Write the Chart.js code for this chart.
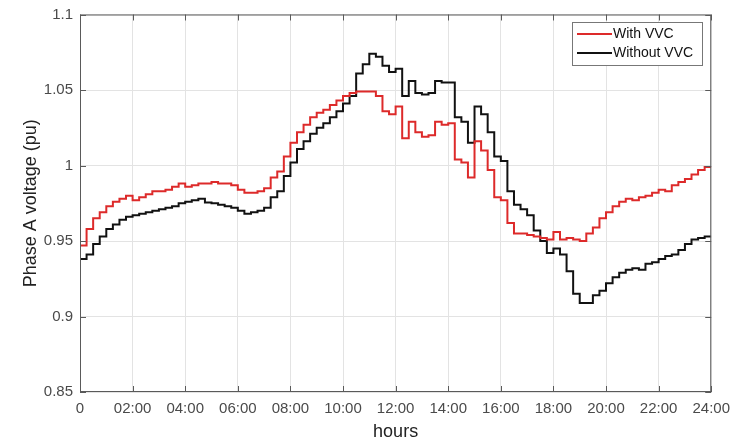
<!DOCTYPE html>
<html>
<head>
<meta charset="utf-8">
<script src="https://cdn.jsdelivr.net/npm/chart.js@4/dist/chart.umd.min.js"></script>
<style>
  html, body { margin: 0; padding: 0; background: #fff; }
  #wrap { width: 738px; height: 443px; }
</style>
</head>
<body>
<div id="wrap"><canvas id="volt"></canvas></div>
<script>
// 15-minute samples, 00:00 .. 24:00
const stepHours = 0.25;
const xTicks = [0, 2, 4, 6, 8, 10, 12, 14, 16, 18, 20, 22, 24];
const yTicks = [0.85, 0.9, 0.95, 1, 1.05, 1.1];

const withVVC = [
  0.947, 0.958, 0.965, 0.969, 0.973, 0.976, 0.978, 0.980,
  0.977, 0.979, 0.981, 0.983, 0.983, 0.984, 0.986, 0.988,
  0.986, 0.987, 0.988, 0.988, 0.989, 0.988, 0.988, 0.987,
  0.984, 0.982, 0.982, 0.983, 0.985, 0.992, 0.996, 1.006,
  1.015, 1.022, 1.027, 1.032, 1.035, 1.037, 1.040, 1.043,
  1.046, 1.048, 1.049, 1.049, 1.049, 1.046, 1.036, 1.034,
  1.039, 1.018, 1.029, 1.022, 1.019, 1.020, 1.029, 1.027,
  1.028, 1.004, 1.002, 0.992, 1.016, 1.010, 0.997, 0.979,
  0.977, 0.962, 0.955, 0.955, 0.954, 0.953, 0.952, 0.951,
  0.956, 0.951, 0.952, 0.951, 0.950, 0.955, 0.959, 0.965,
  0.969, 0.973, 0.976, 0.978, 0.977, 0.979, 0.980, 0.982,
  0.984, 0.983, 0.987, 0.989, 0.991, 0.994, 0.997, 0.999,
  0.999
];

const withoutVVC = [
  0.938, 0.941, 0.948, 0.953, 0.958, 0.961, 0.964, 0.966,
  0.967, 0.968, 0.969, 0.970, 0.971, 0.972, 0.973, 0.975,
  0.976, 0.977, 0.978, 0.9755, 0.975, 0.974, 0.973, 0.972,
  0.970, 0.968, 0.969, 0.970, 0.972, 0.979, 0.983, 0.993,
  1.002, 1.011, 1.016, 1.021, 1.025, 1.028, 1.032, 1.036,
  1.041, 1.046, 1.061, 1.067, 1.074, 1.072, 1.066, 1.062,
  1.064, 1.046, 1.056, 1.048, 1.047, 1.048, 1.056, 1.055,
  1.055, 1.032, 1.029, 1.015, 1.039, 1.034, 1.022, 1.006,
  1.003, 0.983, 0.974, 0.971, 0.967, 0.957, 0.950, 0.942,
  0.945, 0.941, 0.930, 0.915, 0.909, 0.909, 0.914, 0.917,
  0.922, 0.926, 0.929, 0.931, 0.932, 0.931, 0.935, 0.936,
  0.938, 0.940, 0.941, 0.944, 0.948, 0.951, 0.952, 0.953,
  0.953
];

const FONT = "'Liberation Sans', Arial, Helvetica, sans-serif";
const toPoints = arr => arr.map((v, i) => ({ x: i * stepHours, y: v }));

// MATLAB-like box, inward ticks and boxed legend
const frame = {
  id: 'frame',
  afterDraw(chart) {
    const { ctx, chartArea: a, scales: { x, y } } = chart;
    ctx.save();
    ctx.strokeStyle = '#5a5a5a';
    ctx.lineWidth = 1;
    ctx.strokeRect(a.left + 0.5, a.top + 0.5, a.width - 1, a.height - 1);
    ctx.beginPath();
    xTicks.forEach(t => {
      const px = Math.round(x.getPixelForValue(t)) + 0.5;
      ctx.moveTo(px, a.bottom); ctx.lineTo(px, a.bottom - 6);
      ctx.moveTo(px, a.top); ctx.lineTo(px, a.top + 6);
    });
    yTicks.forEach(t => {
      const py = Math.round(y.getPixelForValue(t)) + 0.5;
      ctx.moveTo(a.left, py); ctx.lineTo(a.left + 6, py);
      ctx.moveTo(a.right, py); ctx.lineTo(a.right - 6, py);
    });
    ctx.stroke();

    // legend
    const lx = 572, ly = 22, lw = 130, lh = 43;
    ctx.fillStyle = '#fff';
    ctx.fillRect(lx, ly, lw, lh);
    ctx.strokeStyle = '#777';
    ctx.strokeRect(lx + 0.5, ly + 0.5, lw, lh);
    ctx.font = '14px ' + FONT;
    ctx.textBaseline = 'middle';
    chart.data.datasets.forEach((ds, i) => {
      const yy = ly + 12 + i * 19;
      ctx.strokeStyle = ds.borderColor;
      ctx.lineWidth = 2;
      ctx.beginPath();
      ctx.moveTo(lx + 5, yy); ctx.lineTo(lx + 40, yy);
      ctx.stroke();
      ctx.fillStyle = '#111';
      ctx.fillText(ds.label, lx + 41, yy);
    });
    ctx.restore();
  }
};

new Chart(document.getElementById('volt'), {
  type: 'line',
  data: {
    datasets: [
      {
        label: 'With VVC',
        data: toPoints(withVVC),
        borderColor: '#dd2a2a',
        borderWidth: 2,
        pointRadius: 0,
        stepped: true,
        fill: false,
      },
      {
        label: 'Without VVC',
        data: toPoints(withoutVVC),
        borderColor: '#111111',
        borderWidth: 2,
        pointRadius: 0,
        stepped: true,
        fill: false,
      },
    ],
  },
  options: {
    responsive: true,
    maintainAspectRatio: false,
    animation: false,
    layout: { padding: { top: 13, right: 26, left: 0, bottom: 0 } },
    plugins: { legend: { display: false }, tooltip: { enabled: false } },
    scales: {
      x: {
        type: 'linear',
        min: 0,
        max: 24,
        afterFit: s => { s.height = 51; },
        afterBuildTicks: s => { s.ticks = xTicks.map(v => ({ value: v })); },
        ticks: {
          padding: 8,
          color: '#4a4a4a',
          font: { family: FONT, size: 15 },
          maxRotation: 0,
          callback: v => v === 0 ? '0' : String(v).padStart(2, '0') + ':00',
        },
        grid: { color: '#e3e3e3', drawTicks: false },
        border: { display: false },
        title: {
          display: true,
          text: 'hours',
          color: '#222',
          font: { family: FONT, size: 18 },
          padding: { top: 0, bottom: 0 },
        },
      },
      y: {
        min: 0.85,
        max: 1.1,
        afterFit: s => { s.width = 80; },
        afterBuildTicks: s => { s.ticks = yTicks.map(v => ({ value: v })); },
        ticks: {
          padding: 7,
          color: '#4a4a4a',
          font: { family: FONT, size: 15, lineHeight: 1 },
          callback: v => String(Number(v.toFixed(2))),
        },
        grid: { color: '#e3e3e3', drawTicks: false },
        border: { display: false },
        title: {
          display: true,
          text: 'Phase A voltage (pu)',
          color: '#222',
          font: { family: FONT, size: 18 },
          padding: { top: 20, bottom: 0 },
        },
      },
    },
  },
  plugins: [frame],
});
</script>
</body>
</html>
